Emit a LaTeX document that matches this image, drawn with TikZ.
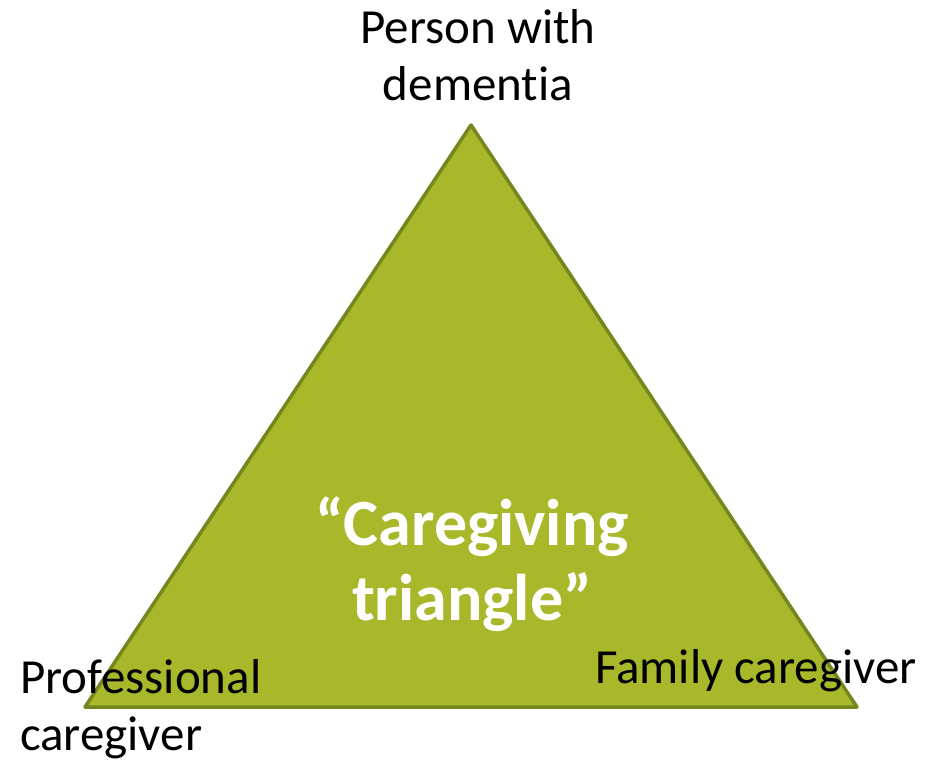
\documentclass[tikz,border=0pt]{standalone}
\usepackage{fontspec}
\setmainfont{Carlito}[Ligatures={TeX,NoCommon}]
\usetikzlibrary{positioning}
\definecolor{oliveFill}{RGB}{168,184,42}
\definecolor{oliveEdge}{RGB}{118,134,30}

\begin{document}
\begin{tikzpicture}[x=1pt, y=-1pt,
every node/.style={inner sep=0pt, outer sep=0pt},
corner/.style={font=\fontsize{49}{57}\selectfont, text=black},
middle/.style={align=center, font=\bfseries\fontsize{66}{75}\selectfont, text=white}]

  \useasboundingbox (0,0) rectangle (943,763);

  % Corners of the triangle
  \coordinate (top) at (471,125);
  \coordinate (left) at (85,707);
  \coordinate (right) at (857,707);

  \filldraw[fill=oliveFill, draw=oliveEdge, line width=3.5pt, line join=round]
    (top) -- (right) -- (left) -- cycle;

  % Labels (base anchor sits on the last line)
  \node[middle, anchor=base] (title) at (472,620) {“Caregiving\\triangle”};

  \node[corner, align=center, anchor=base] (person) at (478,100) {Person with\\dementia};
  \node[corner, align=left, anchor=base west] (pro) at (20,750) {Professional\\caregiver};
  \node[corner, anchor=base west] (family) at (595,683) {Family caregiver};

\end{tikzpicture}
\end{document}
